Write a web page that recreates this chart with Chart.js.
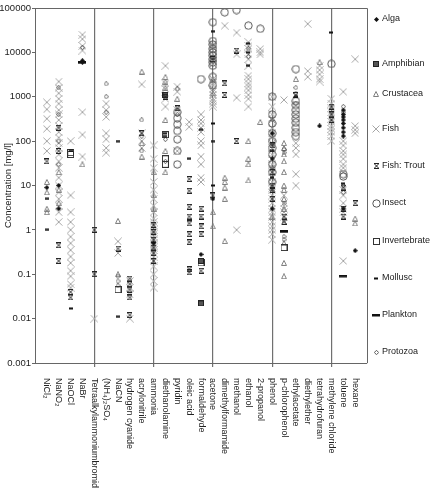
<!DOCTYPE html>
<html>
<head>
    <title>Toxicity by species</title>
    <script src="https://cdn.jsdelivr.net/npm/chart.js"></script>
    <style>
        html, body { margin: 0; padding: 0; background: #fff; }
        .chart-box { width: 430px; height: 493px; }
    </style>
</head>
<body>
    <div class="chart-box">
        <canvas id="chart-tox" width="430" height="493"></canvas>
    </div>

    <script>
        // Categories on the x axis (1..27), separators every 5th
        const categories = ["NiCl₂", "NaNO₂", "NaOCl", "NaBr", "Tetraalkylammoniumbromid", "(NH₄)₂SO₄", "NaCN",
            "hydrogen cyanide", "acrylonitrile", "ammonia", "diethanolamine", "pyridin", "oleic acid", "formaldehyde",
            "acetone", "dimethylformamide", "methanol", "ethanol", "2-propanol", "phenol", "p-chlorophenol",
            "ethylacetate", "diethylether", "tetrahydrofuran", "methylene chloride", "toluene", "hexane"];
        const separators = [5, 10, 15, 20, 25];

        const yTicks = [0.001, 0.01, 0.1, 1, 10, 100, 1000, 10000, 100000];
        const yTickLabels = ["0.001", "0.01", "0.1", "1", "10", "100", "1000", "10000", "100000"];

        // Concentration values [mg/l] per species: [category, values...]
        const alga = [
            ["NiCl₂", 9], ["NaNO₂", 10, 3], ["NaBr", 6000, 6500], ["ammonia", 0.5], ["formaldehyde", 0.28],
            ["acetone", 5], ["phenol", 150, 40, 3], ["tetrahydrofuran", 220],
            ["toluene", 500, 400, 350, 300, 250, 200, 160, 130, 3], ["hexane", 0.34]
        ];
        const amphibian = [
            ["diethanolamine", 1100], ["formaldehyde", 0.2, 0.022]
        ];
        const crustacea = [
            ["NiCl₂", 12, 7, 3, 2.5], ["NaNO₂", 20, 8, 4], ["NaBr", 30], ["NaCN", 1.6, 0.1],
            ["acrylonitrile", 3700, 90, 45], ["ammonia", 20, 6, 3], ["diethanolamine", 2800, 2200, 1600, 300, 60, 20],
            ["pyridin", 900], ["acetone", 2500, 1200, 2.5, 1.2], ["dimethylformamide", 15, 12, 9, 5, 0.56],
            ["ethanol", 100, 40, 30, 13], ["2-propanol", 270], ["phenol", 9, 2],
            ["p-chlorophenol", 90, 70, 50, 35, 20, 10, 8, 5, 3, 1.5, 0.5, 0.18, 0.09],
            ["ethylacetate", 2500], ["tetrahydrofuran", 6000], ["hexane", 1.8, 1.4]
        ];
        const fish = [
            ["NiCl₂", 750, 520, 320, 190, 100, 60],
            ["NaNO₂", 2200, 1600, 1200, 900, 700, 500, 400, 300, 220, 160, 120, 90, 70, 50, 35, 25, 15, 10, 7, 5, 3.5, 2.5, 1.5],
            ["NaOCl", 100, 6, 2.5, 1.5, 1, 0.7, 0.5, 0.35, 0.25, 0.18, 0.12, 0.09, 0.06, 0.05],
            ["NaBr", 25000, 20000, 14000, 11000, 450, 140, 45],
            ["Tetraalkylammoniumbromid", 0.01],
            ["(NH₄)₂SO₄", 700, 500, 350, 150, 110, 70, 55],
            ["NaCN", 0.55, 0.3],
            ["hydrogen cyanide", 0.07, 0.05, 0.035, 0.01],
            ["acrylonitrile", 1900, 150, 100, 70],
            ["ammonia", 80, 40, 25, 12, 8, 5, 3.5, 2.5, 1.8, 1.5, 1.2, 1, 0.9, 0.8, 0.7, 0.6, 0.5, 0.45, 0.4, 0.35, 0.3, 0.25, 0.2, 0.15, 0.1, 0.07, 0.05],
            ["diethanolamine", 5000, 2000, 1500, 900, 600],
            ["pyridin", 1700, 1300, 500, 60],
            ["oleic acid", 270, 210],
            ["formaldehyde", 400, 300, 250, 200, 160, 100, 80, 45, 30, 15, 12],
            ["acetone", 15000, 13000, 11000, 9000, 7500, 6500, 5500, 2500, 2000, 1800, 1500, 1300, 1100, 900, 800, 700, 600],
            ["dimethylformamide", 40000],
            ["methanol", 28000, 9000, 950, 1],
            ["ethanol", 17000, 14000, 12000, 9000, 7000, 5000, 3000, 2500, 2000, 1700, 1400, 1100, 900, 600],
            ["2-propanol", 12000, 10000, 9000],
            ["phenol", 1000, 600, 400, 300, 200, 150, 120, 90, 70, 50, 40, 30, 25, 20, 15, 12, 10, 8, 6, 5, 4, 3, 2.5, 2, 1.5, 1.2, 1, 0.8, 0.6],
            ["p-chlorophenol", 850, 6, 4, 3, 2.5, 2],
            ["ethylacetate", 90, 70, 50, 18, 10],
            ["diethylether", 44000, 3800, 2800],
            ["tetrahydrofuran", 5000, 4000, 3200, 2500, 2200],
            ["methylene chloride", 900, 700, 550, 450, 380, 320, 270, 220, 190, 160, 130, 100],
            ["toluene", 1300, 100, 80, 60, 50, 40, 30, 25, 20, 8, 6, 4, 3, 2.5, 0.2],
            ["hexane", 7000, 220, 180, 150]
        ];
        const trout = [
            ["NiCl₂", 35], ["NaNO₂", 200, 60, 0.45, 0.2], ["NaOCl", 0.04, 0.03], ["Tetraalkylammoniumbromid", 1, 0.1],
            ["NaCN", 0.38], ["hydrogen cyanide", 0.08, 0.06, 0.045, 0.03, 0.012], ["acrylonitrile", 150],
            ["ammonia", 1.3, 0.9, 0.6, 0.4, 0.3, 0.2], ["diethanolamine", 1000], ["pyridin", 550],
            ["oleic acid", 14, 7.6, 3.3, 2, 1.4, 0.8, 0.53, 0.13, 0.11], ["formaldehyde", 3, 2, 1.2, 0.8, 0.12],
            ["acetone", 7000, 6], ["dimethylformamide", 2000, 1100], ["methanol", 11000, 100],
            ["phenol", 80, 20, 10, 8, 5], ["p-chlorophenol", 2, 1.5], ["ethylacetate", 1100],
            ["methylene chloride", 600, 400, 300], ["toluene", 9, 3, 2], ["hexane", 4]
        ];
        const insect = [
            ["pyridin", 450, 330, 240, 170, 110, 60, 30], ["formaldehyde", 2500],
            ["acetone", 48000, 18000, 15000, 12000, 10000, 8500, 7000, 6000, 5000, 2800, 1800],
            ["dimethylformamide", 80000], ["methanol", 90000], ["ethanol", 40000], ["2-propanol", 34000],
            ["phenol", 1000, 400, 250, 150, 100, 70, 50, 30, 20, 12],
            ["ethylacetate", 4200, 800, 650, 500, 400, 320, 260, 200, 160, 130],
            ["methylene chloride", 5500], ["toluene", 18, 16]
        ];
        const invertebrate = [
            ["NaOCl", 55, 50], ["NaCN", 0.045], ["diethanolamine", 140, 40, 30], ["formaldehyde", 0.18], ["p-chlorophenol", 0.4]
        ];
        const mollusc = [
            ["NiCl₂", 1, 5], ["NaOCl", 60, 0.017], ["NaCN", 100, 0.011], ["diethanolamine", 150, 130], ["oleic acid", 40],
            ["formaldehyde", 180], ["acetone", 30000, 250, 100, 10], ["ethanol", 16000, 10000, 5000], ["phenol", 60, 15],
            ["ethylacetate", 1000], ["methylene chloride", 28000], ["toluene", 11]
        ];
        const plankton = [
            ["NaBr", 5800], ["p-chlorophenol", 0.9], ["toluene", 0.09]
        ];
        const protozoa = [
            ["NaNO₂", 1600, 400, 100, 30], ["NaBr", 13000], ["(NH₄)₂SO₄", 1950, 1000, 450], ["NaCN", 0.09, 0.07, 0.055],
            ["acrylonitrile", 300, 130, 60], ["diethanolamine", 110, 35], ["pyridin", 1500, 400], ["ethanol", 12000, 8000],
            ["phenol", 300, 25], ["p-chlorophenol", 65, 55, 4, 0.7, 0.6], ["ethylacetate", 1600, 1200, 700],
            ["toluene", 600, 450, 10, 7]
        ];

        const FONT = '"Liberation Sans", Arial, sans-serif';

        function toPoints(rows) {
            return rows.flatMap(r => r.slice(1).map(v => ({ x: categories.indexOf(r[0]) + 1, y: v })));
        }

        // little canvases used as point styles (chart + legend)
        function marker(w, h, draw) {
            const c = document.createElement("canvas");
            c.width = w; c.height = h;
            const g = c.getContext("2d");
            draw(g, w, h);
            return c;
        }
        const markers = {
            alga: marker(5, 5, g => {
                g.fillStyle = "#111";
                g.beginPath(); g.moveTo(2.5, 0); g.lineTo(5, 2.5); g.lineTo(2.5, 5); g.lineTo(0, 2.5); g.closePath(); g.fill();
            }),
            amphibian: marker(6, 6, g => {
                g.fillStyle = "#555"; g.fillRect(0, 0, 6, 6);
                g.strokeStyle = "#222"; g.lineWidth = 1; g.strokeRect(0.5, 0.5, 5, 5);
            }),
            crustacea: marker(6, 6, g => {
                g.strokeStyle = "#808080"; g.lineWidth = 1;
                g.beginPath(); g.moveTo(3, 0.5); g.lineTo(5.5, 5.5); g.lineTo(0.5, 5.5); g.closePath(); g.stroke();
            }),
            fish: marker(8, 8, g => {
                g.strokeStyle = "#a6a6a6"; g.lineWidth = 1;
                g.beginPath(); g.moveTo(0.5, 0.5); g.lineTo(7.5, 7.5); g.moveTo(7.5, 0.5); g.lineTo(0.5, 7.5); g.stroke();
            }),
            trout: marker(5, 6, g => {
                g.strokeStyle = "#222"; g.lineWidth = 1;
                g.beginPath();
                g.moveTo(0, 0.5); g.lineTo(5, 0.5); g.moveTo(0, 5.5); g.lineTo(5, 5.5);
                g.moveTo(0.5, 1); g.lineTo(4.5, 5); g.moveTo(4.5, 1); g.lineTo(0.5, 5);
                g.stroke();
            }),
            insect: marker(9, 9, g => {
                g.strokeStyle = "#555"; g.lineWidth = 1;
                g.beginPath(); g.arc(4.5, 4.5, 3.7, 0, Math.PI * 2); g.stroke();
            }),
            invertebrate: marker(7, 7, g => {
                g.strokeStyle = "#333"; g.lineWidth = 1; g.strokeRect(0.5, 0.5, 6, 6);
            }),
            mollusc: marker(4, 3, g => { g.fillStyle = "#111"; g.fillRect(0, 0.5, 4, 2); }),
            plankton: marker(8, 3, g => { g.fillStyle = "#111"; g.fillRect(0, 0, 8, 2.5); }),
            protozoa: marker(5, 5, g => {
                g.strokeStyle = "#555"; g.lineWidth = 1;
                g.beginPath(); g.moveTo(2.5, 0.3); g.lineTo(4.7, 2.5); g.lineTo(2.5, 4.7); g.lineTo(0.3, 2.5); g.closePath(); g.stroke();
            })
        };

        const series = [
            { label: "Alga", rows: alga, style: markers.alga, order: 3 },
            { label: "Amphibian", rows: amphibian, style: markers.amphibian, order: 5 },
            { label: "Crustacea", rows: crustacea, style: markers.crustacea, order: 9 },
            { label: "Fish", rows: fish, style: markers.fish, order: 10 },
            { label: "Fish: Trout", rows: trout, style: markers.trout, order: 4 },
            { label: "Insect", rows: insect, style: markers.insect, order: 8 },
            { label: "Invertebrate", rows: invertebrate, style: markers.invertebrate, order: 6 },
            { label: "Mollusc", rows: mollusc, style: markers.mollusc, order: 2 },
            { label: "Plankton", rows: plankton, style: markers.plankton, order: 1 },
            { label: "Protozoa", rows: protozoa, style: markers.protozoa, order: 7 }
        ];

        // rotated category names under the axis, reading downwards
        const xLabelsPlugin = {
            id: "xLabels",
            afterDraw(chart) {
                const { ctx, chartArea, scales } = chart;
                ctx.save();
                ctx.font = "9px " + FONT;
                ctx.fillStyle = "#222";
                ctx.textAlign = "left";
                ctx.textBaseline = "middle";
                categories.forEach((name, i) => {
                    const x = scales.x.getPixelForValue(i + 1);
                    ctx.save();
                    ctx.translate(x, chartArea.bottom + 15);
                    ctx.rotate(Math.PI / 2);
                    ctx.fillText(name, 0, 0);
                    ctx.restore();
                });
                ctx.restore();
            }
        };

        // frame + legend on the right
        const legendYs = [19, 64, 94, 129, 166, 203, 241, 278, 315, 352];
        const frameLegendPlugin = {
            id: "frameLegend",
            afterDraw(chart) {
                const { ctx, chartArea } = chart;
                ctx.save();
                ctx.strokeStyle = "#666";
                ctx.lineWidth = 1;
                ctx.beginPath();
                ctx.moveTo(chartArea.left, chartArea.top + 0.5);
                ctx.lineTo(chartArea.right + 0.5, chartArea.top + 0.5);
                ctx.lineTo(chartArea.right + 0.5, chartArea.bottom);
                ctx.stroke();

                ctx.font = "9px " + FONT;
                ctx.fillStyle = "#222";
                ctx.textBaseline = "middle";
                const mx = chartArea.right + 9;
                series.forEach((s, i) => {
                    const y = legendYs[i];
                    ctx.drawImage(s.style, Math.round(mx - s.style.width / 2), Math.round(y - s.style.height / 2));
                    ctx.fillText(s.label, mx + 6, y);
                });
                ctx.restore();
            }
        };

        new Chart(document.getElementById("chart-tox"), {
            type: "scatter",
            data: {
                datasets: series.map(s => ({
                    label: s.label,
                    data: toPoints(s.rows),
                    pointStyle: s.style,
                    order: s.order,
                    showLine: false
                }))
            },
            options: {
                responsive: false,
                animation: false,
                events: [],
                layout: { padding: { left: 0, top: 8, right: 63, bottom: 0 } },
                plugins: { legend: { display: false }, tooltip: { enabled: false } },
                scales: {
                    x: {
                        type: "linear",
                        min: 0,
                        max: categories.length + 1,
                        afterBuildTicks: s => { s.ticks = Array.from({ length: categories.length + 2 }, (_, i) => ({ value: i })); },
                        afterFit: s => { s.height = 130; },
                        ticks: { display: false },
                        grid: {
                            color: c => separators.includes(c.tick.value) ? "#707070" : "rgba(0,0,0,0)",
                            lineWidth: 1.2,
                            drawTicks: true,
                            tickLength: 4
                        },
                        border: { display: true, color: "#666", width: 1 }
                    },
                    y: {
                        type: "logarithmic",
                        min: 0.001,
                        max: 100000,
                        afterBuildTicks: s => { s.ticks = yTicks.map(v => ({ value: v })); },
                        afterFit: s => { s.width = 35; },
                        ticks: {
                            callback: v => yTickLabels[yTicks.indexOf(v)],
                            font: { size: 9.5, family: FONT },
                            color: "#222",
                            padding: 1
                        },
                        grid: { drawOnChartArea: false, drawTicks: true, tickLength: 3, color: "#666" },
                        border: { display: true, color: "#666", width: 1 },
                        title: {
                            display: true,
                            text: "Concentration [mg/l]",
                            font: { size: 9.5, family: FONT },
                            color: "#222",
                            padding: { top: 3, bottom: 0 }
                        }
                    }
                }
            },
            plugins: [xLabelsPlugin, frameLegendPlugin]
        });
    </script>
</body>
</html>
